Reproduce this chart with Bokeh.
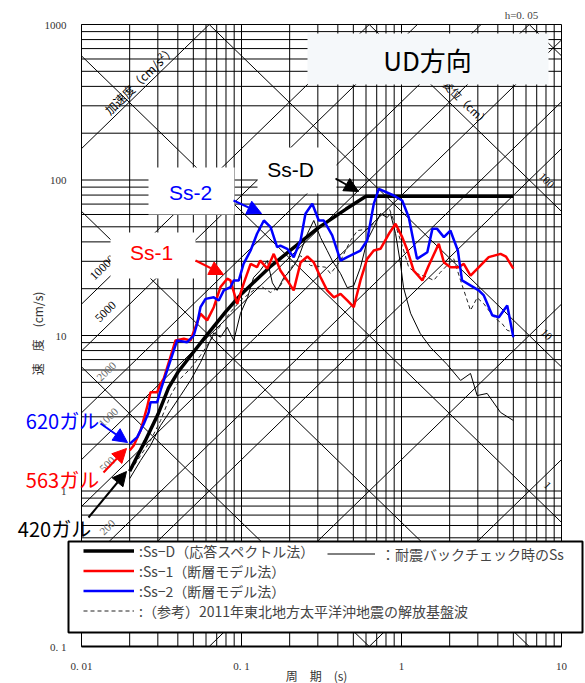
import math
from bokeh.plotting import figure
from bokeh.models import (FixedTicker, CustomJSTickFormatter, Label, BoxAnnotation,
                          Arrow, NormalHead, Legend, LegendItem)
from bokeh.embed import file_html
from bokeh.resources import INLINE

# ---------------- data (period s, pseudo velocity cm/s) ----------------
T_ssd = [0.02, 0.025, 0.03, 0.035, 0.04, 0.05, 0.06, 0.08, 0.1, 0.15, 0.2, 0.3, 0.45, 0.6, 5.0]
sv_ssd = [1.34, 2.1, 3.1, 4.6, 5.8, 7.8, 9.9, 14.3, 18.5, 27.5, 35.0, 49.0, 65.0, 78.5, 78.5]

T_ss1 = [0.02, 0.0212, 0.0234, 0.0257, 0.027, 0.0297, 0.0312, 0.0327, 0.0387, 0.0436,
         0.048, 0.0554, 0.061, 0.0671, 0.0739, 0.0814, 0.0853, 0.094, 0.103, 0.114,
         0.125, 0.131, 0.145, 0.159, 0.175, 0.193, 0.212, 0.234, 0.258, 0.283,
         0.312, 0.343, 0.378, 0.416, 0.458, 0.503, 0.554, 0.61, 0.671, 0.739,
         0.834, 0.918, 1.01, 1.09, 1.19, 1.35, 1.48, 1.71, 1.84, 2.02,
         2.28, 2.45, 2.7, 3.51, 4.16, 4.5, 5.0]
sv_ss1 = [1.82, 1.96, 2.45, 3.46, 4.32, 4.32, 4.89, 5.3, 9.29, 9.52,
          9.29, 13.8, 12.5, 15.2, 20.5, 23.2, 22.6, 16.0, 21.5, 28.9,
          27.5, 30.3, 26.9, 33.5, 26.2, 22.6, 19.5, 29.5, 32.2, 29.5,
          23.7, 19.5, 17.6, 18.5, 16.8, 15.2, 22.6, 31.1, 35.2, 36.1,
          45.1, 52.3, 42.9, 35.2, 26.2, 22.6, 28.2, 38.9, 29.6, 27.5,
          27.5, 28.9, 24.3, 31.9, 33.5, 32.2, 26.9]

T_ss2 = [0.02, 0.0223, 0.0245, 0.0263, 0.027, 0.0297, 0.0312, 0.0327, 0.036, 0.0396,
         0.0458, 0.0503, 0.0528, 0.0554, 0.0596, 0.0671, 0.0721, 0.0775, 0.0853, 0.0895,
         0.0962, 0.103, 0.114, 0.125, 0.138, 0.152, 0.167, 0.175, 0.193, 0.212,
         0.234, 0.251, 0.277, 0.304, 0.327, 0.369, 0.416, 0.458, 0.554, 0.61,
         0.671, 0.721, 0.895, 1.01, 1.11, 1.25, 1.45, 1.56, 1.67, 1.84,
         2.02, 2.25, 2.39, 3.04, 3.27, 3.69, 4.06, 4.58, 5.0]
sv_ss2 = [2.01, 2.22, 2.70, 3.21, 3.72, 3.72, 4.43, 5.14, 6.91, 9.29,
          9.06, 10.0, 11.9, 15.2, 17.2, 17.6, 16.8, 19.5, 20.5, 22.6,
          22.6, 28.9, 35.2, 45.1, 54.9, 49.7, 37.0, 37.9, 36.1, 31.9,
          40.8, 60.6, 70.3, 54.9, 54.9, 44.0, 30.3, 31.9, 35.2, 40.8,
          70.3, 87.8, 79.5, 73.8, 57.6, 31.1, 34.3, 48.5, 48.5, 42.9,
          47.3, 35.2, 22.6, 19.5, 18.1, 13.5, 13.1, 15.6, 9.75]

T_old = [0.02, 0.0234, 0.027, 0.0312, 0.036, 0.0416, 0.048, 0.0554, 0.0671, 0.0739,
         0.0814, 0.0895, 0.0986, 0.109, 0.119, 0.131, 0.145, 0.156, 0.167, 0.184,
         0.202, 0.223, 0.258, 0.283, 0.312, 0.343, 0.369, 0.416, 0.458, 0.503,
         0.554, 0.61, 0.671, 0.739, 0.814, 0.853, 0.918, 0.986, 1.03, 1.14,
         1.31, 1.52, 1.93, 2.34, 2.7, 2.97, 3.43, 4.16, 5.0]
sv_old = [1.20, 1.57, 1.96, 2.64, 3.29, 4.11, 5.14, 6.70, 10.4, 9.75,
          11.3, 9.29, 13.9, 17.5, 23.6, 26.2, 30.3, 21.8, 19.5, 23.6,
          26.2, 30.3, 45.1, 54.9, 42.6, 35.2, 30.3, 25.0, 20.3, 20.9,
          27.4, 40.8, 49.5, 60.8, 57.4, 60.8, 45.2, 28.9, 20.3, 13.9,
          10.3, 8.37, 6.5, 5.14, 5.7, 4.11, 4.24, 3.2, 2.84]

T_toh = [0.0203, 0.0234, 0.027, 0.0312, 0.036, 0.0416, 0.048, 0.0554, 0.064, 0.0739,
         0.0853, 0.0986, 0.114, 0.131, 0.152, 0.175, 0.202, 0.234, 0.27, 0.335,
         0.36, 0.416, 0.48, 0.531, 0.625, 0.739, 0.834, 0.918, 1.01, 1.11,
         1.25, 1.45, 1.59, 1.75, 2.12, 2.34, 2.7, 2.97, 3.27, 3.78,
         4.26, 4.58, 5.0]
sv_toh = [1.35, 1.69, 2.11, 2.84, 4.11, 5.3, 6.13, 7.44, 9.29, 11.6,
          14.1, 16.8, 18.9, 20.9, 18.9, 20.9, 26.9, 32.6, 28.2, 27.5,
          25.0, 30.3, 40.8, 47.3, 48.5, 58.8, 66.5, 51.0, 37.9, 27.4,
          25.0, 23.7, 22.6, 25.5, 31.2, 22.6, 14.5, 17.5, 16.0, 13.1,
          11.9, 10.8, 10.5]

# tripartite reference values
acc_lines = [1, 10, 100, 200, 500, 1000, 2000, 5000, 10000, 100000]   # cm/s2
disp_lines = [0.01, 0.1, 1, 10, 100, 1000]                           # cm
x_ticks = [0.01, 0.1, 1, 10]
y_ticks = [0.1, 1, 10, 100, 1000]

legend_labels = [":Ss−D（応答スペクトル法）", ":Ss−1（断層モデル法）",
                 ":Ss−2（断層モデル法）", ":（参考）2011年東北地方太平洋沖地震の解放基盤波"]
legend_old = "：耐震バックチェック時のSs"

# ---------------- layout helpers (canvas pixel -> data) ----------------
W, H = 585, 683

def X(px):
    return 0.01 * 10 ** ((px - 81) / 160.0)

def Y(py):
    return 10 ** ((490.5 - py) / 155.5)

XMIN, XMAX = x_ticks[0], x_ticks[-1]
YMIN, YMAX = y_ticks[0], y_ticks[-1]

# the frame spans the whole canvas; the axes are pinned to the chart box
p = figure(width=W, height=H, x_axis_type="log", y_axis_type="log",
           x_range=(X(0), X(W)), y_range=(Y(H), Y(0)),
           output_backend="svg", toolbar_location=None,
           min_border=0, min_border_left=0, min_border_right=0,
           min_border_top=0, min_border_bottom=0,
           background_fill_color="white", border_fill_color="white")
p.outline_line_color = None
p.xgrid.visible = False
p.ygrid.visible = False

minor_x = [k * 10 ** n for n in (-2, -1, 0) for k in range(2, 10)]
minor_y = [k * 10 ** n for n in (-1, 0, 1, 2) for k in range(2, 10)]
p.xaxis.ticker = FixedTicker(ticks=x_ticks, minor_ticks=minor_x)
p.yaxis.ticker = FixedTicker(ticks=y_ticks, minor_ticks=minor_y)
fmt = CustomJSTickFormatter(code="""
const m = {"0.01": "0. 01", "0.1": "0. 1"};
const s = String(tick);
return (s in m) ? m[s] : s;
""")
p.xaxis.formatter = fmt
p.yaxis.formatter = fmt
p.xaxis.fixed_location = YMIN
p.yaxis.fixed_location = XMIN
p.xaxis.bounds = (XMIN, XMAX)
p.yaxis.bounds = (YMIN, YMAX)
for ax in (p.xaxis, p.yaxis):
    ax.major_tick_line_color = None
    ax.minor_tick_line_color = None
    ax.major_label_text_font = "Liberation Serif"
    ax.major_label_text_font_size = "11px"
    ax.major_label_text_color = "#333333"
    ax.axis_line_color = "black"
p.xaxis.axis_line_width = 2
p.yaxis.axis_line_width = 1
p.yaxis.major_label_standoff = 9
p.xaxis.major_label_standoff = 7

# rectangular grid limited to the chart box (lines at every tick value)
vx = x_ticks + minor_x
hy = y_ticks + minor_y
p.multi_line(xs=[[v, v] for v in vx], ys=[[YMIN, YMAX] for _ in vx],
             line_color="black", line_width=1)
p.multi_line(xs=[[XMIN, XMAX] for _ in hy], ys=[[h, h] for h in hy],
             line_color="black", line_width=1)

# tripartite diagonals, clipped to the chart box
two_pi = 2 * math.pi
acc_xs, acc_ys = [], []
for a in acc_lines:
    t0 = max(XMIN, YMIN * two_pi / a)
    t1 = min(XMAX, YMAX * two_pi / a)
    if t1 > t0:
        acc_xs.append([t0, t1])
        acc_ys.append([a * t0 / two_pi, a * t1 / two_pi])
disp_xs, disp_ys = [], []
for d in disp_lines:
    t0 = max(XMIN, two_pi * d / YMAX)
    t1 = min(XMAX, two_pi * d / YMIN)
    if t1 > t0:
        disp_xs.append([t0, t1])
        disp_ys.append([two_pi * d / t0, two_pi * d / t1])
p.multi_line(xs=acc_xs, ys=acc_ys, line_color="black", line_width=1)
p.multi_line(xs=disp_xs, ys=disp_ys, line_color="black", line_width=1)

# data
r_old = p.line(T_old, sv_old, line_color="black", line_width=1)
r_toh = p.line(T_toh, sv_toh, line_color="#222222", line_width=1, line_dash="4 3")
r_ssd = p.line(T_ssd, sv_ssd, line_color="black", line_width=3.5)
r_ss1 = p.line(T_ss1, sv_ss1, line_color="#ff0000", line_width=2.5)
r_ss2 = p.line(T_ss2, sv_ss2, line_color="#0000ff", line_width=2.5)

# diagonal labels
ang = math.atan(155.5 / 160.0)

def diag_label(txt, px, py, angle, color="black", font="Liberation Serif", size="11px"):
    p.add_layout(Label(x=X(px), y=Y(py), text=txt, angle=angle, text_align="center",
                       text_baseline="middle", text_font=font, text_font_size=size,
                       text_color=color))

diag_label("加速度（cm/s²）", 139, 79, ang, font="Noto Sans CJK JP", size="12px")
diag_label("変位（cm）", 466, 102, -ang, font="Noto Sans CJK JP")
diag_label("10000", 102, 267, ang, size="12px")
diag_label("5000", 105, 311, ang, size="12px")
diag_label("2000", 106, 371, ang, color="#666666")
diag_label("1000", 108, 417, ang, color="#666666")
diag_label("500", 107, 464, ang, color="#666666")
diag_label("200", 107, 527, ang, color="#666666")
diag_label("100", 546, 180, -ang)
diag_label("10", 546, 334, -ang)
diag_label("1", 547, 485, -ang)

# boxes
def box(l, r, t, b, fill="white", line=None, lw=0):
    p.add_layout(BoxAnnotation(left=X(l), right=X(r), top=Y(t), bottom=Y(b),
                               fill_color=fill, fill_alpha=1.0,
                               line_color=line if line else fill,
                               line_alpha=1.0 if line else 0.0, line_width=lw,
                               level="annotation"))

box(307, 548, 33, 84, fill="#f5f8fa")
box(257, 336, 147, 193)
box(148, 234, 167, 214)
box(110, 195, 232, 278)

def text(txt, px, py, color, size, font="Liberation Sans", angle=0.0):
    p.add_layout(Label(x=X(px), y=Y(py), text=txt, text_align="center", angle=angle,
                       text_baseline="middle", text_font=font, text_font_size=size,
                       text_color=color))

text("UD方向", 427, 59, "black", "26px", font="Noto Sans CJK JP")
text("h=0. 05", 521, 14, "#444444", "11px", font="Liberation Serif")
text("Ss-D", 290, 169, "black", "21px")
text("Ss-2", 190, 192, "#0000ff", "21px")
text("Ss-1", 151, 252, "#ff0000", "21px")
text("620ガル", 62, 420, "#0000ff", "20px", font="Noto Sans CJK JP")
text("563ガル", 62, 479, "#ff0000", "20px", font="Noto Sans CJK JP")
text("420ガル", 54, 528, "black", "20px", font="Noto Sans CJK JP")
# axis titles
text("周　期　(s)", 316, 675, "#333333", "12px", font="Noto Sans CJK JP")
text("速　度　(cm/s)", 37, 333, "#333333", "12px", font="Noto Sans CJK JP",
     angle=math.pi / 2)

def arrow(x0, y0, x1, y1, color):
    p.add_layout(Arrow(x_start=X(x0), y_start=Y(y0), x_end=X(x1), y_end=Y(y1),
                       line_color=color, line_width=2,
                       end=NormalHead(size=14, fill_color=color, line_color=color)))

arrow(335, 178, 358, 191, "black")
arrow(233, 200, 261, 213, "#0000ff")
arrow(195, 260, 223, 274, "#ff0000")
arrow(100, 423, 127, 442, "#0000ff")
arrow(103, 472, 126, 448, "#ff0000")
arrow(88, 517, 126, 471, "black")

# legend frame
box(68, 582, 541, 632, fill="white", line="black", lw=2)

leg_a = Legend(items=[LegendItem(label=legend_labels[0], renderers=[r_ssd]),
                      LegendItem(label=legend_labels[1], renderers=[r_ss1]),
                      LegendItem(label=legend_labels[2], renderers=[r_ss2]),
                      LegendItem(label=legend_labels[3], renderers=[r_toh])],
               location=(79, H - 624.5), orientation="vertical",
               glyph_width=51, glyph_height=19, label_height=19, spacing=0,
               padding=4, margin=0, label_standoff=5,
               label_text_font="Noto Sans CJK JP", label_text_font_size="14px",
               background_fill_alpha=0, border_line_alpha=0)
leg_b = Legend(items=[LegendItem(label=legend_old, renderers=[r_old])],
               location=(323, H - 567.5), orientation="vertical",
               glyph_width=48, glyph_height=19, label_height=19, spacing=0,
               padding=4, margin=0, label_standoff=6,
               label_text_font="Noto Sans CJK JP", label_text_font_size="14px",
               background_fill_alpha=0, border_line_alpha=0)
p.add_layout(leg_a, "center")
p.add_layout(leg_b, "center")

open("out.html", "w").write(file_html(p, INLINE))
